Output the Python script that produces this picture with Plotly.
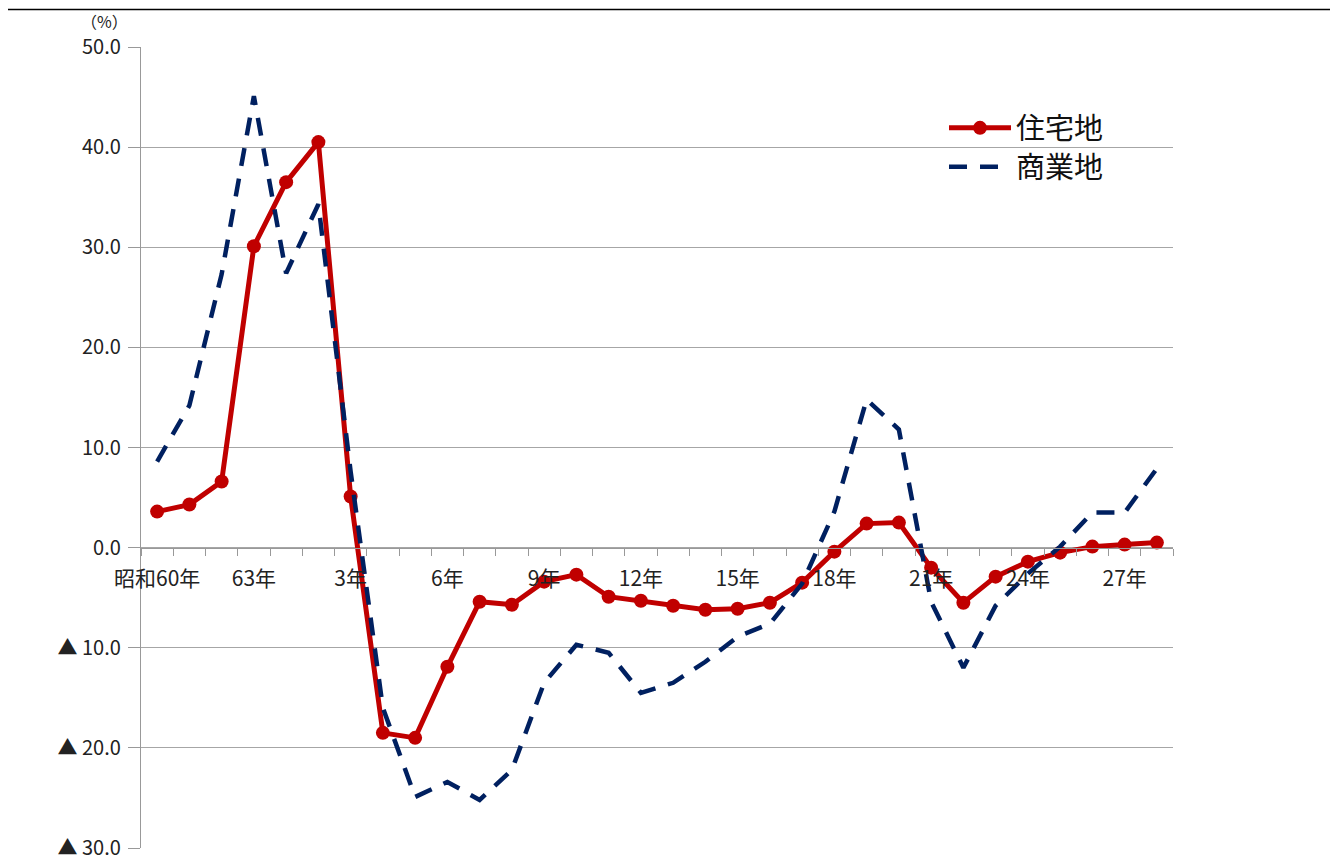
import plotly.graph_objects as go

# Categories (年) — 昭和60年 … 平成28年
categories = ["昭和60年", "61年", "62年", "63年", "平成元年"] + [f"{i}年" for i in range(2, 29)]
shown_labels = ["昭和60年", "63年", "3年", "6年", "9年", "12年", "15年", "18年", "21年", "24年", "27年"]

residential = [3.6, 4.3, 6.6, 30.1, 36.5, 40.5, 5.1, -18.5, -19.0, -11.9, -5.4, -5.7,
               -3.4, -2.7, -4.9, -5.3, -5.8, -6.2, -6.1, -5.5, -3.5, -0.4, 2.4, 2.5,
               -2.0, -5.5, -2.9, -1.4, -0.5, 0.1, 0.3, 0.5]
commercial = [8.6, 14.2, 27.3, 45.1, 27.4, 34.3, 7.6, -16.0, -24.9, -23.4, -25.2, -22.2,
              -13.5, -9.7, -10.5, -14.5, -13.5, -11.4, -8.9, -7.6, -3.6, 3.6, 14.8, 11.8,
              -5.4, -12.0, -5.8, -2.6, 0.1, 3.5, 3.5, 7.9]

y_tickvals = [50, 40, 30, 20, 10, 0, -10, -20, -30]
y_ticktext = ["50.0", "40.0", "30.0", "20.0", "10.0", "0.0", "▲ 10.0", "▲ 20.0", "▲ 30.0"]

JP = "Noto Sans CJK JP"
W, H = 1338, 857
OFF = 8  # page body margin
L, R, T, B = 141 - OFF, 1173 - OFF, 47 - OFF, 848 - OFF

fig = go.Figure()
fig.add_trace(go.Scatter(
    x=categories, y=residential, name="住宅地", mode="lines+markers",
    line=dict(color="#C00000", width=5),
    marker=dict(color="#C00000", size=14),
    legend="legend",
))
fig.add_trace(go.Scatter(
    x=categories, y=commercial, name="商業地", mode="lines",
    line=dict(color="#002060", width=4.5, dash="18px,13px"),
    legend="legend2",
))

def px_x(p):
    return (p - OFF - L) / (R - L)

def px_y(p):
    return (B - (p - OFF)) / (B - T)

leg_common = dict(xanchor="left", yanchor="middle",
                  font=dict(family=JP, size=29, color="#111"),
                  itemwidth=62, bgcolor="rgba(0,0,0,0)", borderwidth=0)

fig.update_layout(
    width=W, height=H,
    margin=dict(l=L, r=W - R, t=T, b=H - B, pad=0, autoexpand=False),
    paper_bgcolor="white", plot_bgcolor="white",
    font=dict(family=JP, size=20, color="#222"),
    showlegend=True,
    legend=dict(x=px_x(944), y=px_y(128), **leg_common),
    legend2=dict(x=px_x(944), y=px_y(167), **leg_common),
    xaxis=dict(
        type="category", categoryorder="array", categoryarray=categories,
        range=[-0.5, len(categories) - 0.5],
        anchor="free", position=30 / 80, automargin=False,
        showline=True, linecolor="#999", linewidth=1.3,
        showgrid=False, zeroline=False,
        tickmode="array", tickvals=categories,
        ticktext=[c if c in shown_labels else "" for c in categories],
        tickson="boundaries", ticks="outside", ticklen=7, tickcolor="#999", tickwidth=1,
        tickfont=dict(family=JP, size=21, color="#222"),
        ticklabelstandoff=12,
        tickangle=0,
    ),
    yaxis=dict(
        range=[-30, 50], tickmode="array", tickvals=y_tickvals, ticktext=y_ticktext,
        automargin=False,
        showgrid=True, gridcolor="#a6a6a6", gridwidth=1.2,
        zeroline=False, showline=True, linecolor="#999", linewidth=1.3,
        ticks="outside", ticklen=12, tickcolor="#999",
        ticklabelstandoff=3,
        tickfont=dict(family=JP, size=20, color="#222"),
    ),
    annotations=[dict(
        text="（%）", xref="paper", yref="paper", x=px_x(104), y=px_y(21),
        xanchor="center", yanchor="middle", showarrow=False,
        font=dict(family=JP, size=16, color="#222"),
    )],
    shapes=[
        dict(type="line", xref="paper", yref="paper",
             x0=px_x(6), x1=px_x(1346), y0=px_y(9.5), y1=px_y(9.5),
             line=dict(color="black", width=1.6)),
        dict(type="line", xref="paper", yref="paper",
             x0=px_x(6.5), x1=px_x(6.5), y0=px_y(9), y1=px_y(870),
             line=dict(color="black", width=1.6)),
    ],
)

fig.write_html("out.html")
